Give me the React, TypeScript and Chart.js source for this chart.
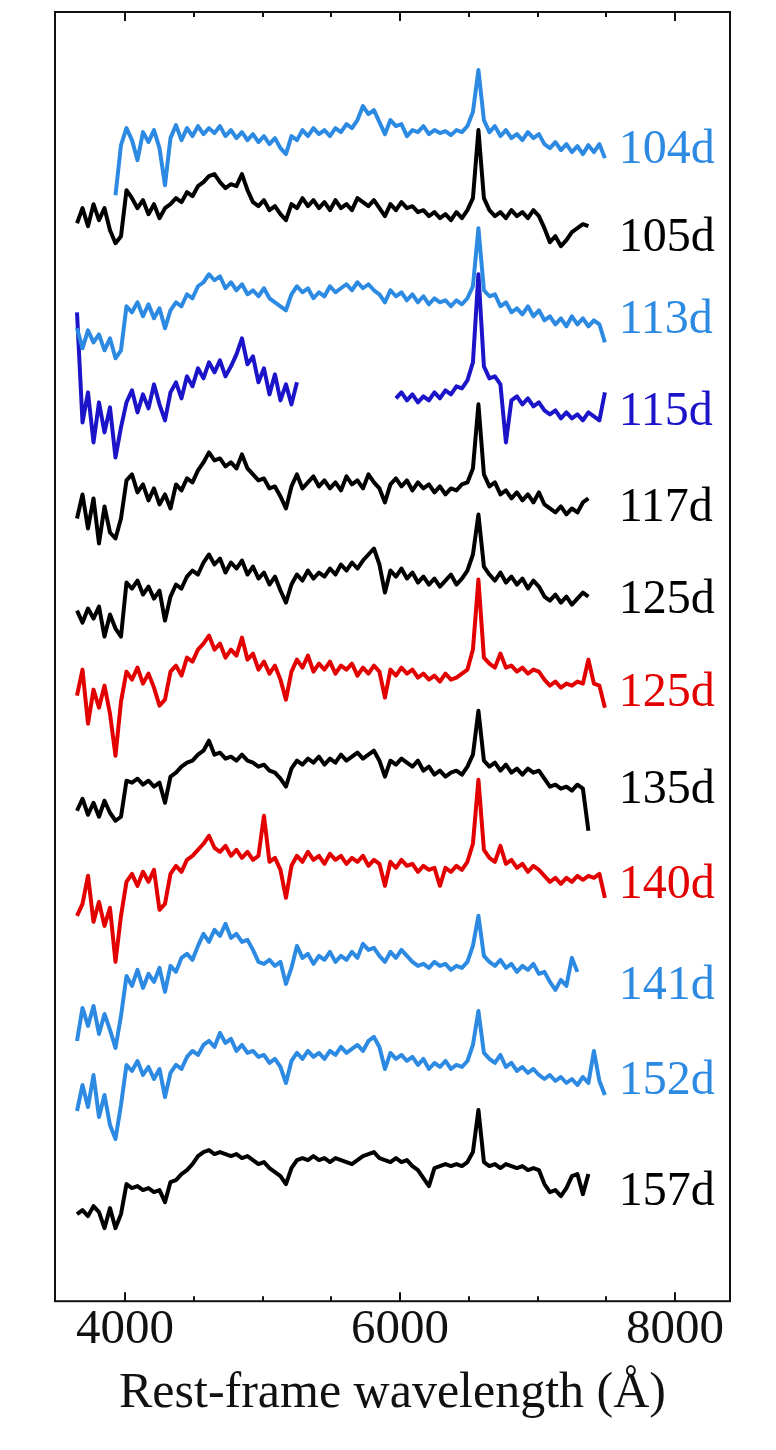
import React, { useEffect, useRef } from 'react';
import { Chart, registerables } from 'chart.js';

Chart.register(...registerables);

// Rest-frame wavelength grid (Å)
const WAVE = [
  3650, 3690, 3730, 3770, 3810, 3850, 3890, 3930, 3970, 4010,
  4050, 4090, 4130, 4170, 4210, 4250, 4290, 4330, 4370, 4410,
  4450, 4490, 4530, 4570, 4610, 4650, 4690, 4730, 4770, 4810,
  4850, 4890, 4930, 4970, 5010, 5050, 5090, 5130, 5170, 5210,
  5250, 5290, 5330, 5370, 5410, 5450, 5490, 5530, 5570, 5610,
  5650, 5690, 5730, 5770, 5810, 5850, 5890, 5930, 5970, 6010,
  6050, 6090, 6130, 6170, 6210, 6250, 6290, 6330, 6370, 6410,
  6450, 6490, 6530, 6570, 6610, 6650, 6690, 6730, 6770, 6810,
  6850, 6890, 6930, 6970, 7010, 7050, 7090, 7130, 7170, 7210,
  7250, 7290, 7330, 7370, 7410, 7450, 7490,
];

const NAMES = ['104d', '105d', '113d', '115d', '117d', '125d', '125d', '135d', '140d', '141d', '152d', '157d'];

const LIGHT = '#2D8AE2';
const DARK = '#1C14C8';
const RED = '#E30000';
const BLACK = '#000000';
const COLORS = [LIGHT, BLACK, LIGHT, DARK, BLACK, BLACK, RED, BLACK, RED, LIGHT, LIGHT, BLACK];

// vertical offset of each spectrum (arbitrary flux units)
const OFFSETS = [1150, 1062, 980, 888, 792, 700, 607, 510, 415, 315, 220, 109];

// scaled flux (relative to offset)
const F104 = [
  null, null, null, null, null, null, null, -45, 5, 22,
  10, -10, 18, 8, 20, 2, -35, 12, 25, 10,
  22, 14, 24, 16, 22, 17, 24, 14, 20, 12,
  18, 10, 16, 8, 14, 6, 12, 2, -4, 14,
  10, 20, 14, 22, 16, 20, 14, 22, 18, 26,
  22, 30, 44, 36, 40, 28, 16, 30, 24, 26,
  14, 20, 18, 24, 16, 20, 17, 19, 15, 20,
  18, 24, 38, 80, 30, 18, 24, 14, 20, 12,
  16, 10, 18, 12, 16, 6, 2, 8, 0, 6,
  -2, 4, -4, 5, -2, 6, -8,
];
const F105 = [
  15, 30, 12, 34, 18, 30, 8, -5, 2, 48,
  40, 30, 38, 24, 34, 20, 30, 34, 40, 36,
  46, 42, 52, 56, 62, 64, 56, 50, 54, 52,
  64, 48, 36, 32, 38, 28, 32, 24, 18, 34,
  30, 40, 32, 38, 30, 36, 28, 38, 30, 34,
  28, 40, 36, 32, 38, 30, 22, 34, 28, 36,
  30, 32, 26, 28, 22, 26, 20, 24, 18, 26,
  20, 28, 40, 108, 40, 28, 22, 26, 20, 28,
  22, 26, 20, 28, 22, 10, -4, 2, -8, -2,
  6, 10, 14, 12, null, null, null,
];
const F113 = [
  -8, -28, -10, -22, -14, -30, -18, -38, -30, 14,
  8, 18, 4, 16, 2, 12, -8, 10, 18, 14,
  26, 22, 34, 38, 46, 40, 44, 32, 38, 30,
  36, 26, 30, 24, 32, 22, 18, 14, 10, 26,
  34, 28, 32, 22, 28, 24, 34, 28, 32, 36,
  30, 38, 32, 36, 30, 26, 18, 30, 24, 28,
  20, 26, 18, 24, 16, 22, 18, 20, 14, 20,
  16, 22, 34, 92, 30, 24, 26, 14, 18, 8,
  12, 6, 14, 4, 10, 0, 4, -4, 2, -6,
  4, -4, 2, -6, 0, -4, -22,
];
const F115 = [
  100, -10, 20, -30, 10, -20, 5, -45, -15, 10,
  22, 0, 18, 4, 28, 8, -8, 20, 30, 14,
  36, 26, 44, 34, 50, 40, 52, 36, 46, 58,
  74, 48, 56, 30, 44, 18, 38, 12, 28, 8,
  30, null, null, null, null, null, null, null, null, null,
  null, null, null, null, null, null, null, null, 14, 20,
  12, 18, 10, 16, 12, 20, 14, 22, 18, 26,
  24, 32, 50, 138, 46, 34, 36, 28, -30, 12,
  16, 8, 14, 6, 10, 2, -2, 2, -6, 0,
  -6, -2, -8, 0, -4, -8, 20,
];
const F117 = [
  -10, 14, -20, 10, -35, 2, -24, -30, -10, 28,
  34, 16, 24, 8, 20, 4, 14, 0, 24, 18,
  30, 26, 38, 46, 56, 48, 50, 42, 46, 40,
  54, 40, 34, 28, 30, 20, 22, 12, 0, 22,
  34, 20, 26, 32, 22, 28, 20, 26, 18, 32,
  24, 28, 20, 34, 26, 20, 6, 24, 30, 22,
  28, 18, 26, 20, 24, 16, 22, 14, 20, 18,
  24, 26, 40, 104, 34, 22, 26, 14, 18, 10,
  16, 8, 14, 6, 16, 4, 0, -4, 2, -6,
  0, -4, 6, 10, null, null, null,
];
const F125 = [
  -10, -22, -8, -18, -6, -36, -14, -28, -36, 18,
  12, 20, 6, 14, 2, 10, -20, 4, 16, 12,
  24, 30, 26, 38, 46, 36, 42, 28, 38, 32,
  40, 26, 34, 22, 28, 16, 24, 10, -2, 16,
  26, 20, 30, 22, 28, 24, 32, 26, 36, 30,
  38, 32, 40, 46, 52, 36, 8, 30, 24, 32,
  22, 28, 18, 24, 16, 22, 14, 20, 26, 16,
  22, 30, 46, 86, 34, 26, 20, 28, 18, 24,
  16, 22, 12, 20, 14, 4, 0, 6, -2, 4,
  -4, 2, 8, 4, null, null, null,
];
const F125R = [
  -2, 24, -30, 4, -14, 8, -20, -62, -8, 22,
  14, 26, 10, 20, 6, -12, -6, 22, 28, 18,
  36, 32, 44, 50, 58, 44, 50, 36, 44, 38,
  56, 34, 40, 24, 32, 20, 28, 14, -6, 22,
  34, 26, 38, 22, 30, 24, 32, 20, 28, 24,
  30, 18, 26, 20, 28, 22, -4, 24, 18, 26,
  20, 24, 16, 20, 14, 18, 12, 20, 14, 16,
  20, 24, 44, 114, 36, 30, 26, 40, 26, 28,
  22, 26, 20, 24, 22, 14, 8, 12, 6, 10,
  8, 12, 10, 34, 10, 8, -14,
];
const F135 = [
  -20, -8, -24, -12, -26, -10, -22, -30, -26, 10,
  8, 12, 6, 10, 4, 8, -12, 14, 18, 24,
  28, 30, 36, 40, 50, 36, 38, 32, 34, 30,
  36, 30, 28, 24, 26, 20, 18, 12, 4, 22,
  30, 26, 32, 28, 34, 26, 32, 28, 36, 30,
  34, 38, 32, 36, 40, 30, 14, 30, 26, 32,
  28, 24, 30, 20, 24, 16, 20, 14, 18, 20,
  16, 24, 36, 80, 30, 24, 28, 20, 26, 18,
  22, 16, 22, 18, 20, 12, 4, 6, 2, 4,
  0, 6, 2, -40, null, null, null,
];
const F140 = [
  -30, -18, 10, -36, -16, -40, -22, -76, -30, 4,
  12, 0, 14, 4, 16, -24, -18, 12, 20, 14,
  26, 30, 36, 42, 50, 38, 34, 40, 30, 36,
  28, 34, 26, 30, 70, 24, 28, 16, -12, 20,
  30, 24, 34, 26, 30, 22, 32, 26, 30, 22,
  28, 24, 30, 20, 26, 22, 0, 24, 18, 26,
  20, 22, 14, 20, 16, 18, 0, 18, 14, 20,
  16, 24, 42, 106, 36, 28, 24, 40, 22, 26,
  18, 22, 14, 20, 16, 10, 4, 8, 2, 8,
  4, 10, 6, 10, 8, 12, -12,
];
const F141 = [
  -55, -22, -40, -20, -48, -28, -44, -62, -30, 10,
  0, 16, -2, 12, 4, 18, -6, 20, 14, 28,
  32, 26, 40, 52, 44, 56, 50, 62, 48, 52,
  44, 46, 36, 24, 22, 26, 20, 24, 2, 18,
  40, 28, 32, 22, 30, 26, 34, 24, 30, 26,
  34, 28, 42, 36, 38, 30, 24, 34, 28, 36,
  30, 24, 20, 22, 18, 24, 20, 22, 16, 20,
  18, 24, 40, 70, 30, 24, 20, 26, 18, 22,
  14, 20, 16, 22, 12, 14, 4, -4, 6, 0,
  28, 14, null, null, null, null, null,
];
const F152 = [
  -30, -4, -26, 6, -36, -14, -44, -58, -24, 16,
  10, 20, 6, 14, 2, 12, -16, 8, 16, 12,
  24, 30, 26, 36, 40, 34, 48, 38, 42, 30,
  36, 28, 30, 24, 26, 18, 22, 14, -2, 20,
  28, 22, 30, 24, 28, 22, 30, 26, 34, 28,
  32, 36, 30, 40, 44, 34, 12, 28, 22, 26,
  20, 24, 16, 22, 12, 18, 14, 20, 12, 16,
  14, 20, 36, 70, 28, 22, 18, 26, 14, 18,
  10, 14, 8, 12, 6, 2, 6, 0, 4, -2,
  2, -4, 4, -2, 30, 0, -14,
];
const F157 = [
  -22, -18, -24, -14, -20, -36, -16, -36, -22, 8,
  4, 6, 2, 4, 0, 2, -10, 10, 12, 18,
  22, 28, 36, 40, 42, 38, 40, 38, 36, 38,
  34, 36, 32, 28, 30, 24, 20, 16, 8, 24,
  32, 34, 32, 36, 32, 34, 30, 34, 32, 30,
  28, 32, 36, 38, 40, 34, 32, 30, 34, 30,
  32, 26, 22, 14, 6, 24, 26, 28, 26, 28,
  26, 30, 40, 82, 30, 26, 28, 24, 28, 26,
  24, 26, 22, 24, 22, 8, 0, 2, -4, 4,
  16, 18, -2, 18, null, null, null,
];

const SPECTRA = [F104, F105, F113, F115, F117, F125, F125R, F135, F140, F141, F152, F157];

const MAJOR_TICKS = [4000, 6000, 8000];
const MINOR_TICKS = [4500, 5000, 5500, 6500, 7000, 7500];
const X_MIN = 3490;
const X_MAX = 8400;
const Y_MIN = 0;
const Y_MAX = 1288;
const LABEL_X = 7590;

const SERIF = '"Liberation Serif", "Times New Roman", Times, serif';

export default function App() {
  const ref = useRef<HTMLCanvasElement>(null);

  useEffect(() => {
    document.body.style.margin = '0';
    const canvas = ref.current;
    if (!canvas) return;

    const framePlugin = {
      id: 'framePlugin',
      afterDraw(chart: any) {
        const { ctx, chartArea: a } = chart;
        const xs = chart.scales.x;
        ctx.save();
        ctx.strokeStyle = '#111';
        ctx.lineWidth = 2;
        ctx.strokeRect(a.left, a.top, a.right - a.left, a.bottom - a.top);
        ctx.lineWidth = 2;
        const drawTick = (v: number, len: number) => {
          const px = Math.round(xs.getPixelForValue(v));
          ctx.beginPath();
          ctx.moveTo(px, a.bottom);
          ctx.lineTo(px, a.bottom - len);
          ctx.moveTo(px, a.top);
          ctx.lineTo(px, a.top + len);
          ctx.stroke();
        };
        MAJOR_TICKS.forEach((v) => drawTick(v, 9));
        MINOR_TICKS.forEach((v) => drawTick(v, 5));
        ctx.restore();
      },
    };

    const labelPlugin = {
      id: 'labelPlugin',
      afterDatasetsDraw(chart: any) {
        const { ctx } = chart;
        const xs = chart.scales.x;
        const ys = chart.scales.y;
        ctx.save();
        ctx.font = `48px ${SERIF}`;
        ctx.textAlign = 'left';
        ctx.textBaseline = 'middle';
        NAMES.forEach((name, k) => {
          ctx.fillStyle = COLORS[k];
          ctx.fillText(name, xs.getPixelForValue(LABEL_X), ys.getPixelForValue(OFFSETS[k]));
        });
        ctx.restore();
      },
    };

    const datasets = SPECTRA.map((flux, k) => ({
      label: NAMES[k],
      data: WAVE.map((w, i) => ({ x: w, y: flux[i] === null ? null : (flux[i] as number) + OFFSETS[k] })),
      borderColor: COLORS[k],
      backgroundColor: COLORS[k],
      borderWidth: 4,
      borderJoinStyle: 'round',
      borderCapStyle: 'butt',
      pointRadius: 0,
      fill: false,
      spanGaps: false,
      tension: 0,
    }));

    const chart = new Chart(canvas, {
      type: 'line',
      data: { datasets },
      options: {
        animation: false,
        responsive: false,
        maintainAspectRatio: false,
        devicePixelRatio: 1,
        layout: { padding: { left: 55, right: 46, top: 12, bottom: 22 } },
        plugins: { legend: { display: false }, tooltip: { enabled: false } },
        elements: { point: { radius: 0 } },
        scales: {
          x: {
            type: 'linear',
            min: X_MIN,
            max: X_MAX,
            grid: { display: false, drawTicks: false },
            border: { display: false },
            afterBuildTicks: (scale: any) => {
              scale.ticks = MAJOR_TICKS.map((v) => ({ value: v }));
            },
            ticks: {
              padding: 0,
              color: '#111',
              autoSkip: false,
              maxRotation: 0,
              font: { family: SERIF, size: 49 },
              callback: (v: any) => String(v),
            },
            title: {
              display: true,
              text: 'Rest-frame wavelength (Å)',
              color: '#111',
              font: { family: SERIF, size: 50 },
              padding: { top: 4, bottom: 4 },
            },
          },
          y: { display: false, min: Y_MIN, max: Y_MAX },
        },
      } as any,
      plugins: [framePlugin, labelPlugin],
    });

    return () => chart.destroy();
  }, []);

  return (
    <div style={{ width: 776, height: 1450 }}>
      <canvas ref={ref} width={776} height={1450} style={{ display: 'block' }} />
    </div>
  );
}
